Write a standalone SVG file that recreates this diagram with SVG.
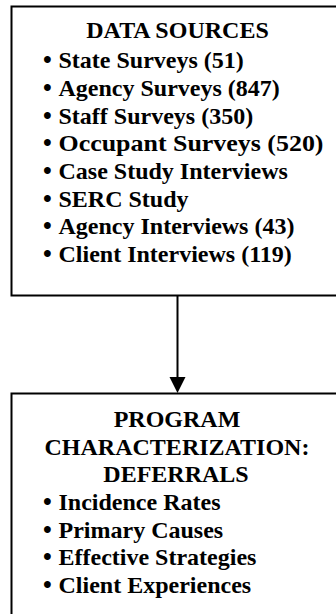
<svg xmlns="http://www.w3.org/2000/svg" width="336" height="614" viewBox="0 0 336 614">
<style>
.box{fill:#fff;stroke:#000;stroke-width:2}
text{font-family:"Liberation Serif","Times New Roman",serif;font-weight:bold;font-size:24px;fill:#000}
.c{text-anchor:middle}
.b{font-size:25px}
</style>
<rect width="336" height="614" fill="#fff"/>
<g id="data-sources">
<rect class="box" x="11.5" y="6.5" width="330" height="289"/>
<text class="c" x="177.5" y="38.3">DATA SOURCES</text>
<text class="b" x="43" y="68.3">•</text><text x="58.5" y="68.3">State Surveys (51)</text>
<text class="b" x="43" y="96">•</text><text x="58.5" y="96">Agency Surveys (847)</text>
<text class="b" x="43" y="123.6">•</text><text x="58.5" y="123.6">Staff Surveys (350)</text>
<text class="b" x="43" y="151.3">•</text><text x="58.5" y="151.3" textLength="265" lengthAdjust="spacingAndGlyphs">Occupant Surveys (520)</text>
<text class="b" x="43" y="179">•</text><text x="58.5" y="179">Case Study Interviews</text>
<text class="b" x="43" y="206.6">•</text><text x="58.5" y="206.6">SERC Study</text>
<text class="b" x="43" y="234.3">•</text><text x="58.5" y="234.3">Agency Interviews (43)</text>
<text class="b" x="43" y="262">•</text><text x="58.5" y="262">Client Interviews (119)</text>
</g>
<g id="connectors">
<line x1="177.5" y1="296" x2="177.5" y2="378" stroke="#000" stroke-width="2"/>
<polygon points="169.5,377 185.5,377 177.5,393" fill="#000"/>
</g>
<g id="program-characterization">
<rect class="box" x="11.5" y="393.5" width="330" height="230"/>
<text class="c" x="177" y="427">PROGRAM</text>
<text class="c" x="177" y="454.5">CHARACTERIZATION:</text>
<text class="c" x="176" y="482.2">DEFERRALS</text>
<text class="b" x="43" y="510">•</text><text x="58.5" y="510">Incidence Rates</text>
<text class="b" x="43" y="537.7">•</text><text x="58.5" y="537.7">Primary Causes</text>
<text class="b" x="43" y="565.3">•</text><text x="58.5" y="565.3">Effective Strategies</text>
<text class="b" x="43" y="593">•</text><text x="58.5" y="593">Client Experiences</text>
</g>
</svg>
